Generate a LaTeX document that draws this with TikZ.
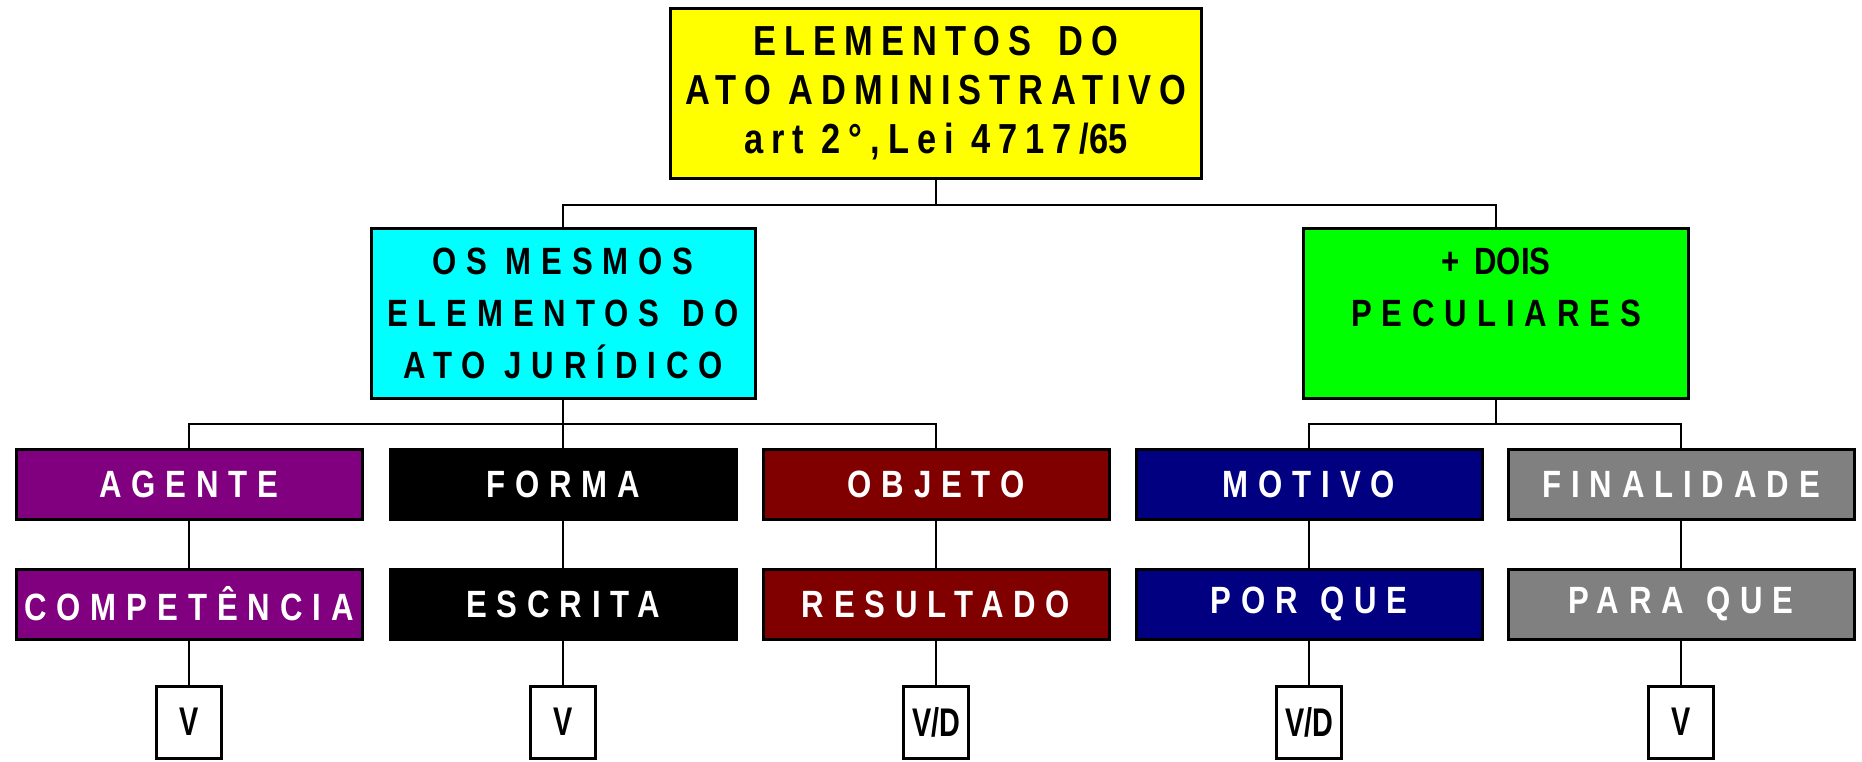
\documentclass[tikz,border=0pt]{standalone}
\usepackage{fontspec}
\newfontfamily\fa[FakeStretch=0.82,LetterSpace=19]{Liberation Sans}
\newfontfamily\fb[FakeStretch=0.82,LetterSpace=26]{Liberation Sans}
\newfontfamily\fc[FakeStretch=0.82]{Liberation Sans}
\newfontfamily\fd[FakeStretch=0.72]{Liberation Sans}
\definecolor{yellowA}{RGB}{255,255,0}
\definecolor{cyanA}{RGB}{0,255,255}
\definecolor{greenA}{RGB}{0,255,0}
\definecolor{purpleA}{RGB}{128,0,128}
\definecolor{maroonA}{RGB}{128,0,0}
\definecolor{navyA}{RGB}{0,0,128}
\definecolor{grayA}{RGB}{128,128,128}
\begin{document}
\begin{tikzpicture}[x=1pt,y=-1pt,
  box/.style={draw=black, line width=3pt, inner sep=0pt, align=center},
  big/.style={box, minimum height=170pt},
  cell/.style={box, minimum width=346pt, minimum height=70pt, text=white, font=\fb\bfseries\fontsize{38}{44}\selectfont},
  res/.style={box, fill=white, minimum width=65pt, minimum height=72pt, font=\fd\bfseries\fontsize{40}{46}\selectfont},
  trunk/.style={line width=2.5pt},
  twig/.style={line width=1.5pt}]
\useasboundingbox (0,0) rectangle (1862,761);
\node[big, fill=yellowA, minimum width=531pt, font=\fa\bfseries\fontsize{42}{49}\selectfont] (top) at (936,93)
  {ELEMENTOS\hspace{10pt} DO\\ATO ADMINISTRATIVO\\art 2°,Lei 4717/{\fc 65}};
\node[big, fill=cyanA, minimum width=384pt, font=\fb\bfseries\fontsize{38}{52}\selectfont] (same) at (563,313)
  {OS MESMOS\\ELEMENTOS\hspace{4pt} DO\\ATO JURÍDICO};
\node[big, fill=greenA, minimum width=385pt, font=\fb\bfseries\fontsize{38}{52}\selectfont] (dois) at (1496,313)
  {{\fc +\hspace{6pt} DOIS}\\PECULIARES\\\mbox{}};
\node[cell, fill=purpleA] (agente) at (189,484) {AGENTE};
\node[cell, fill=black] (forma) at (563,484) {FORMA};
\node[cell, fill=maroonA] (objeto) at (936,484) {OBJETO};
\node[cell, fill=navyA] (motivo) at (1309,484) {MOTIVO};
\node[cell, fill=grayA] (final) at (1681,484) {FINALIDADE};
\node[cell, fill=purpleA] (comp) at (189,604) {COMPETÊNCIA};
\node[cell, fill=black] (escrita) at (563,604) {ESCRITA};
\node[cell, fill=maroonA] (result) at (936,604) {RESULTADO};
\node[cell, fill=navyA] (porque) at (1309,604) {POR\hspace{4pt} QUE};
\node[cell, fill=grayA] (paraque) at (1681,604) {PARA\hspace{4pt} QUE};
\node[res] (r1) at (189,722) {V};
\node[res] (r2) at (563,722) {V};
\node[res] (r3) at (936,722) {V/D};
\node[res] (r4) at (1309,722) {V/D};
\node[res] (r5) at (1681,722) {V};
\coordinate (j0) at (936,205);
\coordinate (j1) at (563,424);
\coordinate (j2) at (1496,424);
\draw[trunk] (top.south) -- (j0);
\draw[trunk] (same.north) |- (j0) -| (dois.north);
\draw[trunk] (same.south) -- (j1);
\draw[trunk] (agente.north) |- (j1) -| (objeto.north);
\draw[trunk] (forma.north) -- (j1);
\draw[trunk] (dois.south) -- (j2);
\draw[trunk] (motivo.north) |- (j2) -| (final.north);
\foreach \a/\b/\c in {agente/comp/r1, forma/escrita/r2, objeto/result/r3, motivo/porque/r4, final/paraque/r5}{
  \draw[twig] (\a) -- (\b);
  \draw[twig] (\b) -- (\c);
}
\end{tikzpicture}
\end{document}
